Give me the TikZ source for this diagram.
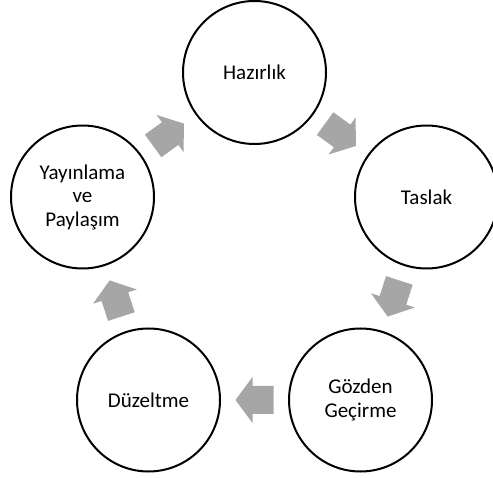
\documentclass[tikz,border=0pt]{standalone}
\usepackage{fontspec}
\setmainfont{Carlito}
\usetikzlibrary{calc}
\definecolor{arrowgrey}{HTML}{A6A6A6}
\tikzset{
  stage/.style={circle, draw=black, line width=2pt, minimum size=143pt, inner sep=0pt,
    align=center, font=\fontsize{21}{23.5}\selectfont, text=black},
  pics/blockarrow/.style={code={
    \fill[arrowgrey] (-19,-14) -- (2,-14) -- (2,-23) -- (19,0) -- (2,23) -- (2,14) -- (-19,14) -- cycle;
  }}
}
\begin{document}
\begin{tikzpicture}[x=1pt,y=-1pt]
\useasboundingbox (0,0) rectangle (493,478);
\node[stage] (h) at (254.5,72.5) {Hazırlık};
\node[stage] (t) at (426.5,197) {Taslak};
\node[stage] (g) at (360.5,400) {Gözden\\Geçirme};
\node[stage] (d) at (148.5,400) {Düzeltme};
\node[stage] (y) at (82.5,197) {Yayınlama\\ve\\Paylaşım};
\pic[rotate=-36] at ($(h)!0.5!(t)$) {blockarrow};
\pic[rotate=-108] at ($(t)!0.5!(g)$) {blockarrow};
\pic[rotate=180] at ($(g)!0.5!(d)$) {blockarrow};
\pic[rotate=108] at ($(d)!0.5!(y)$) {blockarrow};
\pic[rotate=36] at ($(y)!0.5!(h)$) {blockarrow};
\end{tikzpicture}
\end{document}
